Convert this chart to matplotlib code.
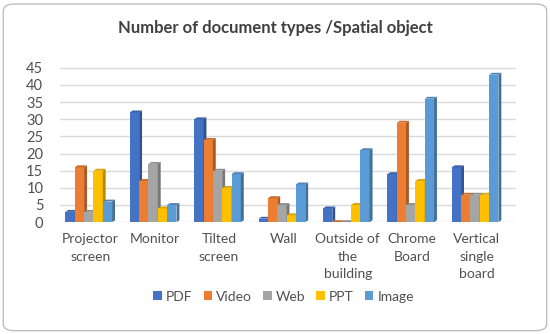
import matplotlib.pyplot as plt
import numpy as np
from matplotlib.patches import Polygon, FancyBboxPatch
from matplotlib.colors import to_rgb

plt.rcParams['font.family'] = ['Lato', 'DejaVu Sans']

categories = ['Projector\nscreen', 'Monitor', 'Tilted\nscreen', 'Wall',
              'Outside of\nthe\nbuilding', 'Chrome\nBoard', 'Vertical\nsingle\nboard']
series_names = ['PDF', 'Video', 'Web', 'PPT', 'Image']
pdf = [3, 32, 30, 1, 4, 14, 16]
video = [16, 12, 24, 7, 0, 29, 8]
web = [3, 17, 15, 5, 0, 5, 8]
ppt = [15, 4, 10, 2, 5, 12, 8]
image = [6, 5, 14, 11, 21, 36, 43]
colors = ['#4472C4', '#ED7D31', '#A5A5A5', '#FFC000', '#5B9BD5']

series = [pdf, video, web, ppt, image]
text_color = '#505050'

fig = plt.figure(figsize=(5.5, 3.34), dpi=100)
ax = fig.add_axes([0.109, 0.335, 0.83, 0.465])

# rounded outer frame
fig.patches.append(FancyBboxPatch((0.006, 0.01), 0.988, 0.978,
                                  boxstyle='round,pad=0,rounding_size=0.02',
                                  transform=fig.transFigure, fill=False,
                                  edgecolor='#BFBFBF', linewidth=1))

x = np.arange(len(categories))
w = 0.145
dx = 0.045   # depth in x units
dy = 0.55    # depth in y units


def darker(c, f):
    r, g, b = to_rgb(c)
    return (r * f, g * f, b * f)


for i, (vals, c) in enumerate(zip(series, colors)):
    pos = x + (i - 2) * w - dx / 2
    ax.bar(pos, vals, width=w, color=c, edgecolor='none', zorder=3,
           label=series_names[i])
    for p, v in zip(pos, vals):
        x0, x1 = p - w / 2, p + w / 2
        side = Polygon([(x1, 0), (x1 + dx, dy), (x1 + dx, v + dy), (x1, v)],
                       closed=True, facecolor=darker(c, 0.72), edgecolor='none', zorder=3)
        top = Polygon([(x0, v), (x0 + dx, v + dy), (x1 + dx, v + dy), (x1, v)],
                      closed=True, facecolor=darker(c, 0.85), edgecolor='none', zorder=3)
        ax.add_patch(side)
        ax.add_patch(top)

ax.set_xlim(-0.47, 6.62)
ax.set_ylim(0, 45.3)
ax.set_yticks(range(0, 46, 5))
ax.yaxis.grid(True, color='#D9D9D9', linewidth=1, zorder=0)
ax.set_axisbelow(True)
for s in ax.spines.values():
    s.set_visible(False)
ax.tick_params(axis='both', length=0, colors=text_color, labelsize=10.5)
ax.tick_params(axis='y', pad=12)
ax.set_xticks(x)
ax.set_xticklabels(categories, fontsize=10, color=text_color, linespacing=1.55)
ax.tick_params(axis='x', pad=8)

fig.text(0.5, 0.915, 'Number of document types /Spatial object', ha='center',
         va='center', fontsize=12, fontweight='bold', color='#404040')

ax.legend(loc='center', bbox_to_anchor=(0.49, -0.48), ncol=5, frameon=False,
          fontsize=10, handlelength=0.6, handleheight=0.6, handletextpad=0.3,
          columnspacing=0.8, labelcolor=text_color)

fig.savefig('out.png', dpi=100)
